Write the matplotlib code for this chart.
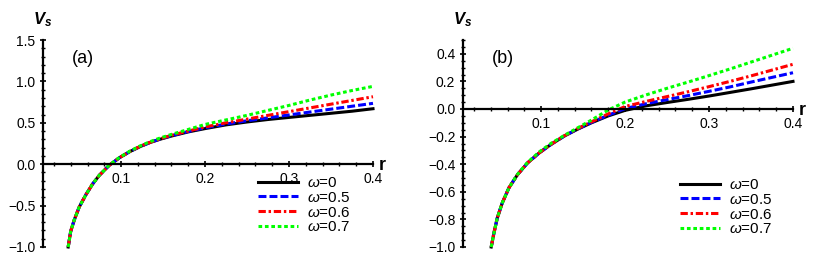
import numpy as np
import matplotlib
matplotlib.use("Agg")
import matplotlib.pyplot as plt
from matplotlib.ticker import MultipleLocator

plt.rcParams['font.family'] = ['Liberation Sans', 'DejaVu Sans']
plt.rcParams['mathtext.fontset'] = 'custom'
plt.rcParams['mathtext.it'] = 'Liberation Sans:italic'
plt.rcParams['mathtext.rm'] = 'Liberation Sans'
plt.rcParams['mathtext.bf'] = 'Liberation Sans:bold:italic'

# values
labels = [r'$\omega$=0', r'$\omega$=0.5', r'$\omega$=0.6', r'$\omega$=0.7']

# panel (a)
r_a = [0.037, 0.040, 0.044, 0.050, 0.058, 0.066, 0.074, 0.086, 0.098, 0.110, 0.122, 0.134,
       0.146, 0.16, 0.18, 0.20, 0.225, 0.25, 0.275, 0.30, 0.325, 0.35, 0.375, 0.40]
va_w0 = [-1.0, -0.81, -0.68, -0.52, -0.37, -0.24, -0.135, -0.012, 0.078, 0.15, 0.21, 0.26,
         0.30, 0.34, 0.39, 0.43, 0.475, 0.51, 0.54, 0.565, 0.59, 0.615, 0.64, 0.67]
va_w5 = [-1.0, -0.81, -0.68, -0.52, -0.37, -0.24, -0.135, -0.012, 0.078, 0.15, 0.21, 0.261,
         0.303, 0.345, 0.395, 0.44, 0.485, 0.525, 0.56, 0.595, 0.63, 0.665, 0.70, 0.735]
va_w6 = [-1.0, -0.81, -0.68, -0.52, -0.37, -0.24, -0.135, -0.012, 0.078, 0.151, 0.212, 0.263,
         0.305, 0.35, 0.40, 0.45, 0.50, 0.545, 0.59, 0.635, 0.68, 0.725, 0.77, 0.815]
va_w7 = [-1.0, -0.81, -0.68, -0.52, -0.37, -0.24, -0.134, -0.01, 0.081, 0.155, 0.218, 0.27,
         0.315, 0.36, 0.42, 0.48, 0.535, 0.59, 0.65, 0.71, 0.775, 0.835, 0.89, 0.94]

# panel (b)
r_b = [0.0406, 0.0438, 0.0478, 0.0538, 0.0618, 0.072, 0.084, 0.098, 0.112, 0.128, 0.144,
       0.16, 0.18, 0.20, 0.225, 0.25, 0.275, 0.30, 0.325, 0.35, 0.375, 0.40]
vb_w0 = [-1.0, -0.90, -0.79, -0.68, -0.57, -0.475, -0.39, -0.317, -0.256, -0.195, -0.145,
         -0.10, -0.05, -0.01, 0.023, 0.047, 0.07, 0.094, 0.12, 0.146, 0.173, 0.20]
vb_w5 = [-1.0, -0.90, -0.79, -0.68, -0.57, -0.475, -0.39, -0.317, -0.256, -0.194, -0.143,
         -0.097, -0.045, 0.003, 0.038, 0.068, 0.097, 0.128, 0.16, 0.195, 0.229, 0.263]
vb_w6 = [-1.0, -0.90, -0.79, -0.68, -0.57, -0.475, -0.39, -0.317, -0.255, -0.193, -0.14,
         -0.093, -0.035, 0.018, 0.055, 0.09, 0.125, 0.162, 0.20, 0.24, 0.282, 0.324]
vb_w7 = [-1.0, -0.90, -0.79, -0.68, -0.57, -0.473, -0.386, -0.31, -0.248, -0.19, -0.135,
         -0.08, -0.007, 0.05, 0.102, 0.15, 0.195, 0.242, 0.29, 0.34, 0.39, 0.44]

colors = ['black', '#0000ff', '#ff0000', '#00ff00']
styles = ['-', (0, (2.6, 1.0)), (0, (2.4, 0.9, 0.8, 0.9)), (0, (1.2, 0.9))]

fig = plt.figure(figsize=(8.17, 2.68), dpi=100)
ax_a = fig.add_axes([43 / 817, 1 - 247 / 268, 330 / 817, 207 / 268])
ax_b = fig.add_axes([463 / 817, 1 - 247 / 268, 330 / 817, 207 / 268])


def style_axes(ax, ylim, ymaj, ymin, tag, leg_x, leg_y):
    ax.set_xlim(0.007, 0.4)
    ax.set_ylim(*ylim)
    for s in ['top', 'right']:
        ax.spines[s].set_visible(False)
    ax.spines['bottom'].set_position(('data', 0))
    ax.spines['bottom'].set_linewidth(1.6)
    ax.spines['left'].set_linewidth(1.6)
    ax.xaxis.set_major_locator(MultipleLocator(0.1))
    ax.xaxis.set_minor_locator(MultipleLocator(0.02))
    ax.yaxis.set_major_locator(MultipleLocator(ymaj))
    ax.yaxis.set_minor_locator(MultipleLocator(ymin))
    ax.tick_params(which='major', direction='inout', length=5, width=1.2, labelsize=10, pad=3)
    ax.tick_params(which='minor', direction='inout', length=3, width=1.0)
    ax.tick_params(axis='x', which='major', pad=3)
    ax.set_zorder(1)
    ax.patch.set_visible(False)
    ax.annotate(r'$\mathbf{V_s}$', xy=(0, 1), xycoords='axes fraction',
                xytext=(0, 8), textcoords='offset points', ha='center', va='bottom',
                fontsize=12)
    ax.annotate('r', xy=(1, 0), xycoords=('axes fraction', 'data'),
                xytext=(4, -1), textcoords='offset points', ha='left', va='center',
                fontsize=13, fontweight='bold')
    ax.text(0.12, 0.91, tag, transform=ax.transAxes, fontsize=13, ha='center', va='center')
    ax.legend(loc='upper left', bbox_to_anchor=(leg_x, leg_y), bbox_transform=fig.transFigure,
              frameon=False, fontsize=11, handlelength=2.6, handletextpad=0.6,
              labelspacing=0.05, borderpad=0, borderaxespad=0)


for ys, c, ls, lab in zip([va_w0, va_w5, va_w6, va_w7], colors, styles, labels):
    ax_a.plot(r_a, ys, color=c, linestyle=ls, lw=2.2, label=lab, clip_on=False)
for ys, c, ls, lab in zip([vb_w0, vb_w5, vb_w6, vb_w7], colors, styles, labels):
    ax_b.plot(r_b, ys, color=c, linestyle=ls, lw=2.2, label=lab, clip_on=False)

style_axes(ax_a, (-1.0, 1.5), 0.5, 0.1, '(a)', 258 / 817, 1 - 176 / 268)
style_axes(ax_b, (-1.0, 0.5), 0.2, 0.05, '(b)', 680 / 817, 1 - 178 / 268)

fig.savefig('out.png', dpi=100)
